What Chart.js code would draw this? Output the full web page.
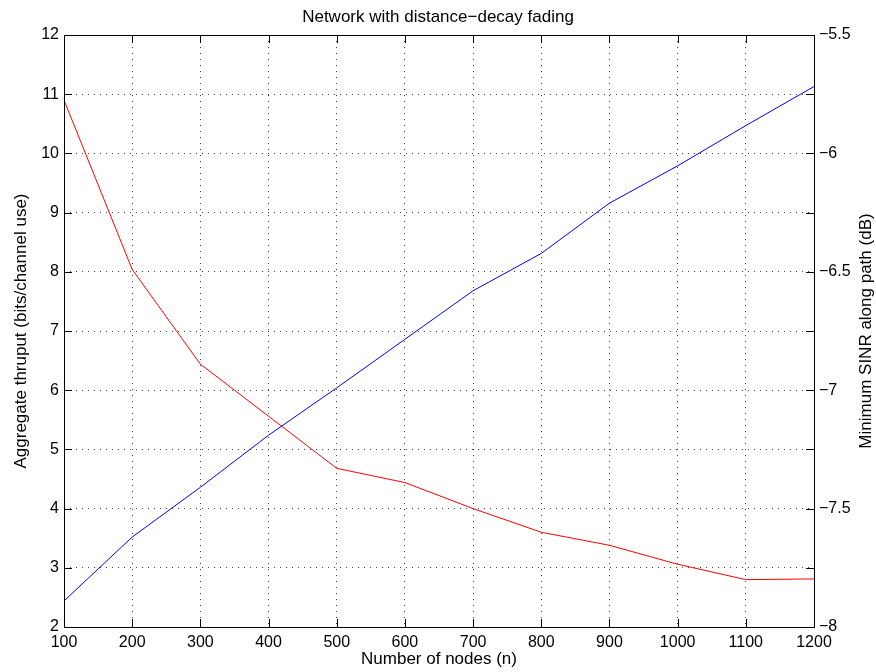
<!DOCTYPE html>
<html>
<head>
<meta charset="utf-8">
<script src="https://cdn.jsdelivr.net/npm/chart.js@4/dist/chart.umd.min.js"></script>
<style>
  html, body { margin: 0; padding: 0; background: #fff; }
  #wrap { width: 876px; height: 672px; position: relative; }
</style>
</head>
<body>
<div id="wrap"><canvas id="chart"></canvas></div>
<script>
// values
const nodes = [100, 200, 300, 400, 500, 600, 700, 800, 900, 1000, 1100, 1200];
const thruput = [2.44, 3.52, 4.36, 5.24, 6.04, 6.86, 7.68, 8.31, 9.16, 9.79, 10.47, 11.13];
const minSinr = [-5.775, -6.49, -6.89, -7.11, -7.33, -7.39, -7.50, -7.60, -7.655, -7.735, -7.80, -7.797];

const titleText = 'Network with distance\u2212decay fading';
const xLabel = 'Number of nodes (n)';
const leftLabel = 'Aggregate thruput (bits/channel use)';
const rightLabel = 'Minimum SINR along path (dB)';

const FONT = '"Liberation Sans", Arial, Helvetica, sans-serif';

function minusSign(v) {
  return String(v).replace('-', '\u2212');
}

// MATLAB style frame: box, inward ticks, right label read bottom-up
const matlabFrame = {
  id: 'matlabFrame',
  afterDraw(chart) {
    const { ctx, chartArea: a, scales } = chart;
    ctx.save();
    ctx.strokeStyle = '#000';
    ctx.lineWidth = 1;
    ctx.beginPath();
    scales.x.ticks.forEach(t => {
      const px = Math.round(scales.x.getPixelForValue(t.value)) + 0.5;
      ctx.moveTo(px, a.bottom); ctx.lineTo(px, a.bottom - 8);
      ctx.moveTo(px, a.top); ctx.lineTo(px, a.top + 8);
    });
    scales.y.ticks.forEach(t => {
      const py = Math.round(scales.y.getPixelForValue(t.value)) + 0.5;
      ctx.moveTo(a.left, py); ctx.lineTo(a.left + 8, py);
      ctx.moveTo(a.right, py); ctx.lineTo(a.right - 8, py);
    });
    scales.y1.ticks.forEach(t => {
      const py = Math.round(scales.y1.getPixelForValue(t.value)) + 0.5;
      ctx.moveTo(a.right, py); ctx.lineTo(a.right - 8, py);
    });
    ctx.stroke();
    ctx.strokeRect(Math.round(a.left) + 0.5, Math.round(a.top) + 0.5,
      Math.round(a.right - a.left), Math.round(a.bottom - a.top));

    ctx.translate(866, (a.top + a.bottom) / 2);
    ctx.rotate(-Math.PI / 2);
    ctx.font = '17px ' + FONT;
    ctx.fillStyle = '#000';
    ctx.textAlign = 'center';
    ctx.textBaseline = 'middle';
    ctx.fillText(rightLabel, 0, 0);
    ctx.restore();
  }
};

const gridDots = { display: false, dash: [1, 5] };

new Chart(document.getElementById('chart').getContext('2d'), {
  type: 'line',
  data: {
    labels: nodes,
    datasets: [{
      label: 'thruput',
      data: nodes.map((n, i) => ({ x: n, y: thruput[i] })),
      borderColor: '#0000ff',
      borderWidth: 1,
      pointRadius: 0,
      tension: 0,
      yAxisID: 'y'
    }, {
      label: 'SINR',
      data: nodes.map((n, i) => ({ x: n, y: minSinr[i] })),
      borderColor: '#ff0000',
      borderWidth: 1,
      pointRadius: 0,
      tension: 0,
      yAxisID: 'y1'
    }]
  },
  options: {
    responsive: true,
    maintainAspectRatio: false,
    animation: false,
    layout: { padding: 0 },
    scales: {
      x: {
        type: 'linear',
        min: 100,
        max: 1200,
        ticks: {
          stepSize: 100,
          padding: 6,
          color: '#000',
          maxRotation: 0,
          font: { family: FONT, size: 16 },
          callback: v => String(v)
        },
        grid: { color: 'rgba(0,0,0,0.75)', lineWidth: 1, drawTicks: false },
        border: gridDots,
        title: {
          display: true,
          text: xLabel,
          color: '#000',
          padding: { top: 0, bottom: 2 },
          font: { family: FONT, size: 17 }
        },
        afterFit(scale) { scale.height = 45; }
      },
      y: {
        position: 'left',
        min: 2,
        max: 12,
        ticks: {
          stepSize: 1,
          padding: 5,
          color: '#000',
          font: { family: FONT, size: 16 }
        },
        grid: { color: 'rgba(0,0,0,0.75)', lineWidth: 1, drawTicks: false },
        border: gridDots,
        title: {
          display: true,
          text: leftLabel,
          color: '#000',
          padding: { top: 11, bottom: 0 },
          font: { family: FONT, size: 17 }
        },
        afterFit(scale) { scale.width = 64; }
      },
      y1: {
        position: 'right',
        min: -8,
        max: -5.5,
        ticks: {
          stepSize: 0.5,
          padding: 5,
          color: '#000',
          font: { family: FONT, size: 16 },
          callback: v => minusSign(v)
        },
        grid: { drawOnChartArea: false, drawTicks: false },
        border: { display: false },
        afterFit(scale) { scale.width = 62; }
      }
    },
    plugins: {
      legend: { display: false },
      tooltip: { enabled: false },
      title: {
        display: true,
        text: titleText,
        color: '#000',
        padding: { top: 7, bottom: 7.6 },
        font: { family: FONT, size: 17, weight: 'normal' }
      }
    }
  },
  plugins: [matlabFrame]
});
</script>
</body>
</html>
